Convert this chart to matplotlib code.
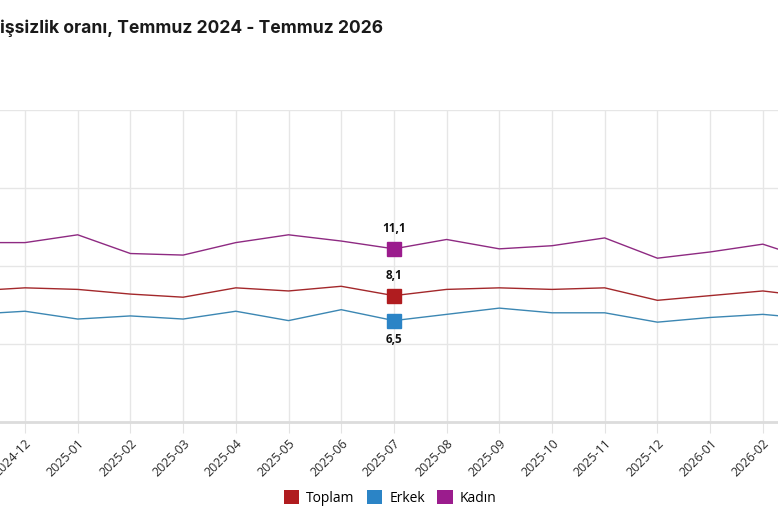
import matplotlib.pyplot as plt
import numpy as np
from matplotlib.patches import Patch

# Months visible in the (cropped) chart, incl. one on each side for the edge segments
months = ["2024-11", "2024-12", "2025-01", "2025-02", "2025-03", "2025-04",
          "2025-05", "2025-06", "2025-07", "2025-08", "2025-09", "2025-10",
          "2025-11", "2025-12", "2026-01", "2026-02", "2026-03"]

toplam = [8.4, 8.6, 8.5, 8.2, 8.0, 8.6, 8.4, 8.7, 8.1, 8.5, 8.6, 8.5,
          8.6, 7.8, 8.1, 8.4, 8.0]
erkek = [6.9, 7.1, 6.6, 6.8, 6.6, 7.1, 6.5, 7.2, 6.5, 6.9, 7.3, 7.0,
         7.0, 6.4, 6.7, 6.9, 6.6]
kadin = [11.5, 11.5, 12.0, 10.8, 10.7, 11.5, 12.0, 11.6, 11.1, 11.7, 11.1, 11.3,
         11.8, 10.5, 10.9, 11.4, 10.3]

series_names = ["Toplam", "Erkek", "Kadın"]
highlight_month = "2025-07"

title = "işsizlik oranı, Temmuz 2024 - Temmuz 2026"

marker_colors = {"Toplam": "#b01c1f", "Erkek": "#2b84c6", "Kadın": "#9b1c8d"}
line_colors = {"Toplam": "#a3282b", "Erkek": "#3c87b3", "Kadın": "#8e2a82"}

plt.rcParams['font.family'] = ['Open Sans', 'DejaVu Sans']

fig = plt.figure(figsize=(7.78, 5.19), dpi=100)
W, H = 778, 519
# axes spans beyond the visible left edge (the picture is a crop)
ax = fig.add_axes([0, (H - 422) / H, 1, (422 - 110) / H])

x = np.arange(len(months))
hi = months.index(highlight_month)
data = {"Toplam": toplam, "Erkek": erkek, "Kadın": kadin}

for name in series_names:
    ax.plot(x, data[name], color=line_colors[name], linewidth=1.0, zorder=3)
    ax.plot(x[hi], data[name][hi], marker='s', markersize=10,
            color=marker_colors[name], zorder=4)

lbl = lambda v: f"{v:.1f}".replace(".", ",")
ax.annotate(lbl(kadin[hi]), (x[hi], kadin[hi]), xytext=(0, 10), textcoords='offset points',
            ha='center', va='bottom', fontsize=8.5, fontweight='bold', color='#111111')
ax.annotate(lbl(toplam[hi]), (x[hi], toplam[hi]), xytext=(0, 9.5), textcoords='offset points',
            ha='center', va='bottom', fontsize=8.5, fontweight='bold', color='#111111')
ax.annotate(lbl(erkek[hi]), (x[hi], erkek[hi]), xytext=(0, -9), textcoords='offset points',
            ha='center', va='top', fontsize=8.5, fontweight='bold', color='#111111')

ax.set_xticks(x)
ax.set_xticklabels(months, rotation=45, ha='right', rotation_mode='anchor',
                   fontsize=9, color='#2a2a2a')
step = 52.7
ax.set_xlim(1 - 25 / step, 1 + (W - 25) / step)
ax.set_yticks([0, 5, 10, 15, 20])
ax.set_ylim(0, 20)
ax.tick_params(axis='x', length=8, color='#e3e3e3', pad=3)
ax.tick_params(axis='y', length=0, labelleft=False)
ax.grid(True, color='#e6e6e6', linewidth=1.0)
ax.set_axisbelow(True)
for s in ['left', 'right', 'top']:
    ax.spines[s].set_visible(False)
ax.spines['bottom'].set_color('#dcdcdc')
ax.spines['bottom'].set_linewidth(2)

fig.text(0, 1 - 33 / H, title, fontsize=12.6, fontweight='bold', color='#1a1a1a',
         family=['Inter', 'DejaVu Sans'], ha='left', va='baseline')

handles = [Patch(facecolor=marker_colors[n], edgecolor='none') for n in series_names]
fig.legend(handles, series_names, loc='center', bbox_to_anchor=(390 / W, 1 - 498 / H),
           ncol=3, frameon=False, fontsize=10, handlelength=1.1, handleheight=1.1,
           handletextpad=0.5, columnspacing=0.9)

fig.savefig("out.png", dpi=100)
